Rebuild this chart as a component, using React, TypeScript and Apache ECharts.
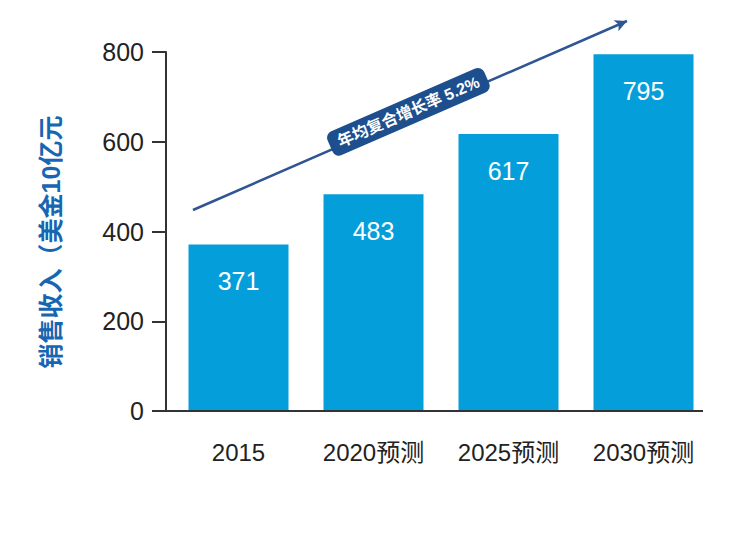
import React, { useEffect, useRef } from "react";
import * as echarts from "echarts";

const categories = ["2015", "2020预测", "2025预测", "2030预测"];
const revenue = [371, 483, 617, 795];
const yTicks = { min: 0, max: 800, interval: 200 };
const yTitle = "销售收入（美金10亿元";
const cagrLabel = "年均复合增长率 5.2%";

const FONT = "'Liberation Sans', Arial, 'Noto Sans CJK SC', sans-serif";

export default function App() {
  const ref = useRef<HTMLDivElement>(null);
  useEffect(() => {
    document.body.style.margin = "0";
    if (!ref.current) return;
    const chart = echarts.init(ref.current, undefined, { renderer: "svg" });
    chart.setOption({
      animation: false,
      backgroundColor: "#ffffff",
      grid: { left: 171, right: 26, top: 52, bottom: 132 },
      xAxis: {
        type: "category",
        data: categories,
        axisLine: { show: false },
        axisTick: { show: false },
        axisLabel: {
          interval: 0,
          hideOverlap: false,
          color: "#222",
          fontSize: 24,
          fontFamily: FONT,
          margin: 29,
        },
      },
      yAxis: {
        type: "value",
        min: yTicks.min,
        max: yTicks.max,
        interval: yTicks.interval,
        offset: 5,
        name: yTitle,
        nameLocation: "middle",
        nameGap: 103,
        nameTextStyle: {
          color: "#1766b2",
          fontSize: 25,
          fontWeight: "bold",
          fontFamily: FONT,
          padding: [0, 21, 0, 0],
        },
        splitLine: { show: false },
        axisLine: { show: true, lineStyle: { color: "#333", width: 2 } },
        axisTick: { show: true, length: 14, lineStyle: { color: "#333", width: 2 } },
        axisLabel: { color: "#222", fontSize: 25, fontFamily: FONT, margin: 22 },
      },
      graphic: [
        {
          type: "line",
          shape: { x1: 152, y1: 411, x2: 703, y2: 411 },
          style: { stroke: "#333", lineWidth: 2 },
          z: 10,
        },
      ],
      series: [
        {
          type: "bar",
          data: revenue,
          barWidth: 100,
          itemStyle: { color: "#049fdb" },
          label: {
            show: true,
            position: "insideTop",
            distance: 24,
            color: "#ffffff",
            fontSize: 25,
            fontFamily: FONT,
          },
          markLine: {
            silent: true,
            symbol: ["none", "arrow"],
            symbolSize: [9, 12],
            lineStyle: { color: "#2f5592", width: 2.5, type: "solid" },
            label: {
              show: true,
              position: "middle",
              formatter: cagrLabel,
              color: "#ffffff",
              fontSize: 16,
              fontWeight: "bold",
              fontFamily: FONT,
              backgroundColor: "#1d4f8e",
              borderRadius: 7,
              padding: [5, 9],
              distance: -9,
            },
            data: [[{ x: 193, y: 210 }, { x: 627, y: 21 }]],
          },
        },
      ],
    });
    return () => chart.dispose();
  }, []);
  return <div ref={ref} style={{ width: 737, height: 543 }} />;
}
